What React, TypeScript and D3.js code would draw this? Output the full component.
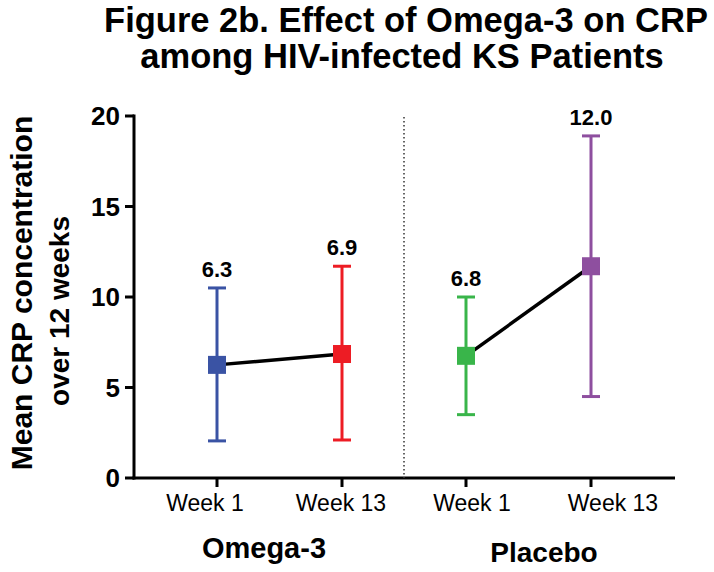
import React from "react";
import * as d3 from "d3";

const categories = ["Omega-3 Week 1", "Omega-3 Week 13", "Placebo Week 1", "Placebo Week 13"];
const tickLabels = ["Week 1", "Week 13", "Week 1", "Week 13"];
const groups = ["Omega-3", "Placebo"];
const means = [6.25, 6.85, 6.75, 11.7];
const lower = [2.05, 2.1, 3.5, 4.5];
const upper = [10.5, 11.7, 10.0, 18.9];
const valueLabels = ["6.3", "6.9", "6.8", "12.0"];
const colors = ["#3a53a4", "#ed1c24", "#39b54a", "#8e4f9f"];
const yTicks = [0, 5, 10, 15, 20];

const W = 714, H = 572;
const FONT = "'Liberation Sans', Arial, Helvetica, sans-serif";
// style: horizontal offsets of tick labels as in reference
const labelShift = [-12, -1, 6, 22];

export default function App() {
  const xGroups = d3.scaleBand<string>().domain(groups).range([155, 653]);
  const xInner = d3.scalePoint<string>().domain(["Week 1", "Week 13"]).range([0, 125]);
  const xpos = (i: number) => {
    const g = groups[Math.floor(i / 2)];
    const start = i < 2 ? 217 : 466;
    return start + xInner(tickLabels[i])!;
  };
  const y = d3.scaleLinear().domain([0, 20]).range([478, 116]);
  const axisLeft = 134;
  const axisRight = 675;
  const half = 9;

  const seg = (a: number, b: number) =>
    d3.line<number>().x((_, k) => xpos(a + k)).y((d) => y(d))(means.slice(a, b))!;

  return (
    <svg width={W} height={H} style={{ position: "absolute", left: 0, top: 0, background: "#fff" }} fontFamily={FONT}>
      <rect width={W} height={H} fill="#fff" />
      <text x={406} y={32} textAnchor="middle" fontSize={34.5} fontWeight="bold">Figure 2b. Effect of Omega-3 on CRP</text>
      <text x={402} y={68} textAnchor="middle" fontSize={34.5} fontWeight="bold">among HIV-infected KS Patients</text>

      <g transform={`translate(21, 293) rotate(-90)`}>
        <text textAnchor="middle" dy="0.36em" fontSize={30} fontWeight="bold">Mean CRP concentration</text>
      </g>
      <g transform={`translate(59, 311) rotate(-90)`}>
        <text textAnchor="middle" dy="0.36em" fontSize={28} fontWeight="bold">over 12 weeks</text>
      </g>

      {/* axes */}
      <line x1={axisLeft} x2={axisLeft} y1={y(20) - 1.5} y2={y(0) + 1.5} stroke="#000" strokeWidth={3} />
      <line x1={axisLeft - 1.5} x2={axisRight} y1={y(0)} y2={y(0)} stroke="#000" strokeWidth={3} />
      {yTicks.map((t) => (
        <g key={t}>
          <line x1={axisLeft - 9} x2={axisLeft} y1={y(t)} y2={y(t)} stroke="#000" strokeWidth={3} />
          <text x={axisLeft - 14} y={y(t)} dy="0.36em" textAnchor="end" fontSize={26} fontWeight="bold">{t}</text>
        </g>
      ))}
      {categories.map((c, i) => (
        <g key={c}>
          <line x1={xpos(i)} x2={xpos(i)} y1={y(0)} y2={y(0) + 9} stroke="#000" strokeWidth={3} />
          <text x={xpos(i) + labelShift[i]} y={511} textAnchor="middle" fontSize={23}>{tickLabels[i]}</text>
        </g>
      ))}
      <text x={264} y={558} textAnchor="middle" fontSize={29} fontWeight="bold">{groups[0]}</text>
      <text x={544} y={562} textAnchor="middle" fontSize={28} fontWeight="bold">{groups[1]}</text>

      {/* divider */}
      <line x1={404} x2={404} y1={117} y2={y(0)} stroke="#333" strokeWidth={1.5} strokeDasharray="1.5 2.5" />

      {/* connecting lines */}
      <path d={seg(0, 2)} fill="none" stroke="#000" strokeWidth={3.5} />
      <path d={seg(2, 4)} fill="none" stroke="#000" strokeWidth={3.5} />

      {categories.map((c, i) => {
        const cx = xpos(i);
        return (
          <g key={c}>
            <line x1={cx} x2={cx} y1={y(upper[i])} y2={y(lower[i])} stroke={colors[i]} strokeWidth={3} />
            <line x1={cx - half} x2={cx + half} y1={y(upper[i])} y2={y(upper[i])} stroke={colors[i]} strokeWidth={3} />
            <line x1={cx - half} x2={cx + half} y1={y(lower[i])} y2={y(lower[i])} stroke={colors[i]} strokeWidth={3} />
            <rect x={cx - 9} y={y(means[i]) - 9} width={18} height={18} fill={colors[i]} />
            <text x={cx} y={y(upper[i]) - 11} textAnchor="middle" fontSize={22} fontWeight="bold">{valueLabels[i]}</text>
          </g>
        );
      })}
    </svg>
  );
}
